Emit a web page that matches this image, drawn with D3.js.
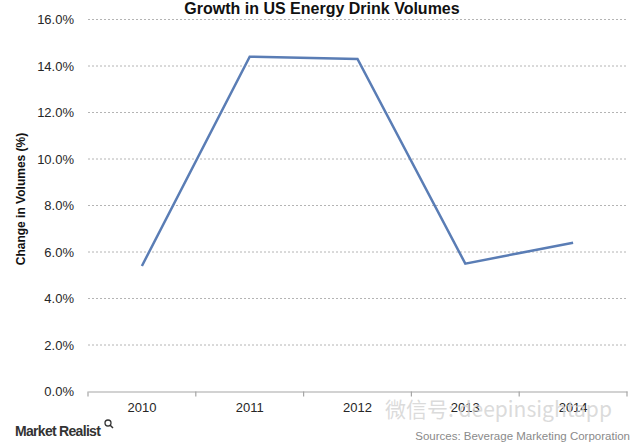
<!DOCTYPE html>
<html>
<head>
<meta charset="utf-8">
<script src="https://cdn.jsdelivr.net/npm/d3@7"></script>
<style>
body{margin:0;background:#fff;}
svg{display:block;font-family:"Liberation Sans",Arial,sans-serif;}
</style>
</head>
<body>
<svg id="chart" width="640" height="446"></svg>
<script>
const categories = ["2010","2011","2012","2013","2014"];
const values = [5.4, 14.4, 14.3, 5.5, 6.4];
const yTicks = [0,2,4,6,8,10,12,14,16];

const svg = d3.select("#chart");
const margin = {left:88, right:13, top:19.5, bottom:54.5};
const W = 640, H = 446;

const x = d3.scaleBand().domain(categories).range([margin.left, W - margin.right]);
const y = d3.scaleLinear().domain([0,16]).range([H - margin.bottom, margin.top]);

// gridlines
svg.append("g").selectAll("line").data(yTicks.filter(d=>d>0)).join("line")
  .attr("x1", margin.left).attr("x2", W - margin.right)
  .attr("y1", d=>y(d)).attr("y2", d=>y(d))
  .attr("stroke","#b4b4b4").attr("stroke-width",1).attr("stroke-dasharray","2,2");

// y axis labels
const yAxis = d3.axisLeft(y).tickValues(yTicks).tickFormat(d=>d3.format(".1f")(d)+"%").tickSize(0).tickPadding(14);
const gy = svg.append("g").attr("transform",`translate(${margin.left},0)`).call(yAxis);
gy.select(".domain").remove();
gy.selectAll("text").attr("font-size",13).attr("fill","#262626").attr("font-family","Liberation Sans, Arial, sans-serif");

// x axis
const xAxis = d3.axisBottom(x).tickSize(0).tickPadding(11);
const gx = svg.append("g").attr("transform",`translate(0,${y(0)})`).call(xAxis);
gx.select(".domain").attr("stroke","#a6a6a6").attr("stroke-width",1.2);
gx.selectAll("text").attr("font-size",13).attr("fill","#262626").attr("font-family","Liberation Sans, Arial, sans-serif");
// boundary ticks
const bounds = categories.map(c=>x(c)).concat([x(categories[categories.length-1])+x.bandwidth()]);
gx.append("g").selectAll("line").data(bounds).join("line")
  .attr("x1",d=>d).attr("x2",d=>d).attr("y1",0).attr("y2",5)
  .attr("stroke","#a6a6a6").attr("stroke-width",1.2);

// line
const line = d3.line().x((d,i)=>x(categories[i])+x.bandwidth()/2).y(d=>y(d));
svg.append("path").datum(values).attr("d",line)
  .attr("fill","none").attr("stroke","#5a7db5").attr("stroke-width",2.5).attr("stroke-linejoin","miter");

// title
svg.append("text").attr("x",322).attr("y",14).attr("text-anchor","middle")
  .attr("font-size",16).attr("font-weight","bold").attr("fill","#111").text("Growth in US Energy Drink Volumes");

// y axis title
svg.append("text").attr("transform","translate(25,199) rotate(-90)").attr("text-anchor","middle")
  .attr("font-size",12).attr("font-weight","bold").attr("fill","#111").text("Change in Volumes (%)");

// watermark
svg.append("text").attr("x",385).attr("y",417).attr("font-size",21)
  .attr("fill","#d2d2d2").attr("fill-opacity",0.8)
  .attr("font-family","Noto Sans CJK SC, sans-serif").text("微信号: deepinsightapp");

// footer
svg.append("text").attr("x",15).attr("y",436).attr("font-size",14).attr("font-weight","bold")
  .attr("fill","#333").attr("letter-spacing",-0.7).text("Market Realist");
const mg = svg.append("g").attr("transform","translate(108,423)");
mg.append("circle").attr("r",3).attr("fill","none").attr("stroke","#333").attr("stroke-width",1.3);
mg.append("line").attr("x1",2).attr("y1",2).attr("x2",5).attr("y2",5).attr("stroke","#333").attr("stroke-width",1.5);

svg.append("text").attr("x",630).attr("y",440).attr("text-anchor","end").attr("font-size",11.5)
  .attr("fill","#8a8a8a").text("Sources: Beverage Marketing Corporation");
</script>
</body>
</html>
